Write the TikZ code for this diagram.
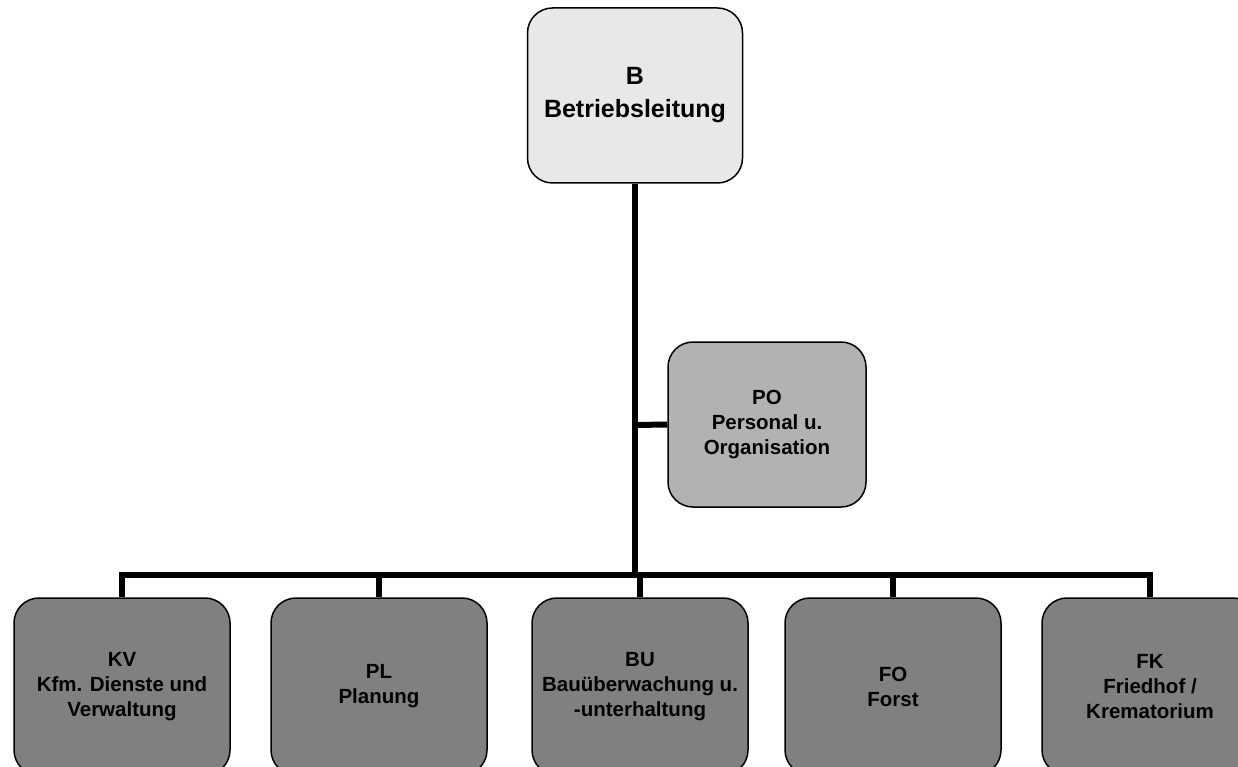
\documentclass[tikz,border=0pt]{standalone}
\usepackage{fontspec}
\setmainfont{Liberation Sans}
\definecolor{topfill}{HTML}{E8E8E8}
\definecolor{midfill}{HTML}{B2B2B2}
\definecolor{lowfill}{HTML}{808080}
\begin{document}
\begin{tikzpicture}[x=1pt,y=-1pt,
  box/.style={draw=black, line width=1.5pt, rounded corners=25pt, align=center,
    inner sep=0pt},
  topbox/.style={box, fill=topfill, minimum width=215pt, minimum height=175pt,
    font=\fontsize{25}{33}\selectfont\bfseries},
  midbox/.style={box, fill=midfill, minimum width=198pt, minimum height=165pt,
    font=\fontsize{20.5}{25}\selectfont\bfseries},
  lowbox/.style={box, fill=lowfill, minimum width=216pt, minimum height=177pt,
    font=\fontsize{20.5}{25}\selectfont\bfseries},
  conn/.style={line width=6pt, draw=black}]
\useasboundingbox (0,0) rectangle (1238,767);
\clip (0,0) rectangle (1238,767);
\fill[white] (0,0) rectangle (1238,767);

\node[topbox] (B) at (635,95.5) {B\\Betriebsleitung};
\node[midbox] (PO) at (767,424.5) {\raisebox{12pt}{\begin{tabular}{@{}c@{}}PO\\Personal u.\\Organisation\end{tabular}}};
\node[lowbox] (KV) at (122,686.5) {KV\\Kfm. Dienste und\\Verwaltung};
\node[lowbox] (PL) at (379,686.5) {PL\\Planung};
\node[lowbox] (BU) at (640,686.5) {BU\\Bauüberwachung u.\\-unterhaltung};
\node[lowbox] (FO) at (893,686.5) {FO\\Forst};
\node[lowbox] (FK) at (1150,686.5) {FK\\Friedhof /\\Krematorium};

\coordinate (bus) at (635,575);
\coordinate (pojoin) at (635,425);

\draw[conn] (B.south) -- (bus);
\draw[conn] (pojoin) -- (PO.west);
\draw[conn] (bus) -| (KV.north);
\draw[conn] (bus) -| (PL.north);
\draw[conn] (bus) -| (BU.north);
\draw[conn] (bus) -| (FO.north);
\draw[conn] (bus) -| (FK.north);
\end{tikzpicture}
\end{document}
